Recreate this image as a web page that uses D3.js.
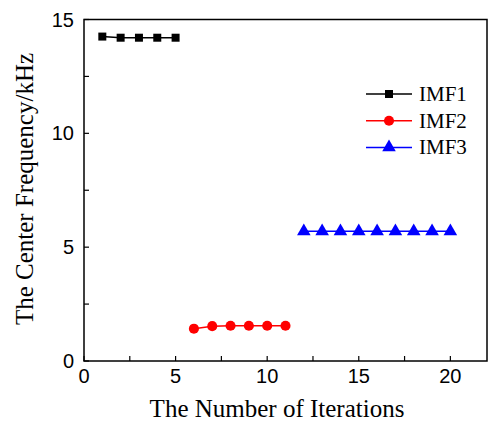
<!DOCTYPE html>
<html>
<head>
<meta charset="utf-8">
<script src="https://cdn.jsdelivr.net/npm/d3@7"></script>
<style>
  body { margin: 0; background: #fff; }
  svg { display: block; }
</style>
</head>
<body>
<div id="chart"></div>
<script>
// series data
var imf1X = [1, 2, 3, 4, 5];
var imf1Y = [14.25, 14.2, 14.2, 14.2, 14.2];
var imf2X = [6, 7, 8, 9, 10, 11];
var imf2Y = [1.42, 1.53, 1.55, 1.55, 1.55, 1.55];
var imf3X = [12, 13, 14, 15, 16, 17, 18, 19, 20];
var imf3Y = [5.7, 5.7, 5.7, 5.7, 5.7, 5.7, 5.7, 5.7, 5.7];
var seriesNames = ["IMF1", "IMF2", "IMF3"];
var seriesColors = ["#000000", "#ff0000", "#0000ff"];
var xTicks = [0, 5, 10, 15, 20];
var yTicks = [0, 5, 10, 15];

var width = 488, height = 422;
var margin = { top: 19.5, right: 1, bottom: 61, left: 84 };
var w = width - margin.left - margin.right,
    h = height - margin.top - margin.bottom;

var sans = "'Liberation Sans', Arial, sans-serif";
var serif = "'Liberation Serif', 'Times New Roman', serif";

var svg = d3.select("#chart").append("svg")
    .attr("width", width)
    .attr("height", height);

var x = d3.scaleLinear().domain([0, 22]).range([margin.left, margin.left + w]);
var y = d3.scaleLinear().domain([0, 15]).range([margin.top + h, margin.top]);

// frame
svg.append("rect")
    .attr("x", margin.left).attr("y", margin.top)
    .attr("width", w).attr("height", h)
    .style("fill", "none").style("stroke", "#000").style("stroke-width", 1.5);

// ticks (inward), majors and minors
var xMinor = d3.range(2.5, 22, 5);
var yMinor = d3.range(2.5, 15, 5);

svg.selectAll(".xt").data(xTicks.concat(xMinor)).enter().append("line")
    .attr("x1", d => x(d)).attr("x2", d => x(d))
    .attr("y1", y(0)).attr("y2", y(0) - 5)
    .style("stroke", "#000").style("stroke-width", 1.2);

svg.selectAll(".yt").data(yTicks.concat(yMinor)).enter().append("line")
    .attr("x1", x(0)).attr("x2", x(0) + 5)
    .attr("y1", d => y(d)).attr("y2", d => y(d))
    .style("stroke", "#000").style("stroke-width", 1.2);

svg.selectAll(".xl").data(xTicks).enter().append("text")
    .attr("x", d => x(d)).attr("y", y(0) + 22)
    .attr("text-anchor", "middle")
    .style("font-family", sans)
    .style("font-size", "20px")
    .text(d => d);

svg.selectAll(".yl").data(yTicks).enter().append("text")
    .attr("x", x(0) - 10).attr("y", d => y(d) + 7)
    .attr("text-anchor", "end")
    .style("font-family", sans)
    .style("font-size", "20px")
    .text(d => d);

// axis titles
svg.append("text")
    .attr("x", 277).attr("y", 417)
    .attr("text-anchor", "middle")
    .style("font-family", serif)
    .style("font-size", "25px")
    .text("The Number of Iterations");

svg.append("text")
    .attr("transform", "translate(33,189) rotate(-90)")
    .attr("text-anchor", "middle")
    .style("font-family", serif)
    .style("font-size", "25px")
    .text("The Center Frequency/kHz");

var series = [
    d3.zip(imf1X, imf1Y),
    d3.zip(imf2X, imf2Y),
    d3.zip(imf3X, imf3Y)
];

var line = d3.line().x(d => x(d[0])).y(d => y(d[1]));
var shapes = [d3.symbolSquare, d3.symbolCircle, d3.symbolTriangle];
var sizes = [64, 80, 80];

series.forEach(function (pts, i) {
    svg.append("path")
        .attr("d", line(pts))
        .style("fill", "none")
        .style("stroke", seriesColors[i])
        .style("stroke-width", 1.5);

    svg.selectAll(".m" + i).data(pts).enter().append("path")
        .attr("d", d3.symbol().type(shapes[i]).size(sizes[i]))
        .attr("transform", d => "translate(" + x(d[0]) + "," + y(d[1]) + ")")
        .style("fill", seriesColors[i]);
});

// legend
var legend = svg.append("g");
seriesNames.forEach(function (name, i) {
    var ly = 94 + i * 26.7;
    legend.append("line")
        .attr("x1", 366).attr("x2", 412)
        .attr("y1", ly).attr("y2", ly)
        .style("stroke", seriesColors[i]).style("stroke-width", 1.5);
    legend.append("path")
        .attr("d", d3.symbol().type(shapes[i]).size(sizes[i]))
        .attr("transform", "translate(389," + ly + ")")
        .style("fill", seriesColors[i]);
    legend.append("text")
        .attr("x", 419).attr("y", ly + 7)
        .style("font-family", serif)
        .style("font-size", "21px")
        .text(name);
});
</script>
</body>
</html>
